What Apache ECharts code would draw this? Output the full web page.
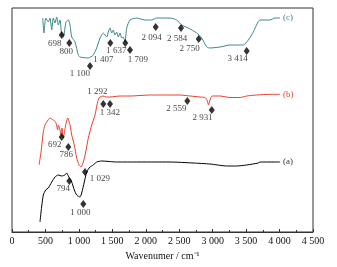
<!DOCTYPE html>
<html>
<head>
<meta charset="utf-8">
<script src="https://cdn.jsdelivr.net/npm/echarts@6/dist/echarts.min.js"></script>
<style>
  html, body { margin: 0; padding: 0; background: #fff; }
  #chart { width: 337px; height: 267px; }
</style>
</head>
<body>
<div id="chart"></div>
<script>
// x tick labels
var xTicks = [0, 500, 1000, 1500, 2000, 2500, 3000, 3500, 4000, 4500];

// spectrum (a) - [wavenumber, relative intensity]
var specA = [
  [419, 10], [434, 20], [468, 37], [504, 42], [543, 44], [594, 50], [643, 55],
  [692, 57], [743, 56], [792, 57], [818, 59], [842, 56], [893, 50], [931, 42],
  [967, 37], [1017, 35], [1042, 39], [1081, 50], [1117, 60], [1166, 65],
  [1215, 67], [1266, 70], [1341, 71], [1565, 70], [1813, 70], [2362, 70],
  [2706, 69], [2960, 68], [3210, 66], [3359, 66], [3509, 67], [3682, 69],
  [3708, 70], [3981, 70], [4007, 70]
];
// spectrum (b)
var specB = [
  [404, 67], [434, 80], [468, 100], [493, 107], [519, 110], [568, 114],
  [617, 112], [653, 110], [683, 102], [692, 107], [718, 102], [733, 97],
  [748, 104], [767, 94], [803, 107], [833, 114], [867, 107], [893, 97],
  [931, 87], [967, 74], [1002, 67], [1032, 65], [1066, 70], [1102, 80],
  [1141, 94], [1192, 107], [1241, 117], [1271, 127], [1293, 133], [1316, 135],
  [1360, 136], [1405, 135], [1465, 135], [1615, 136], [1764, 136], [2063, 137],
  [2313, 137], [2512, 137], [2661, 136], [2811, 135], [2885, 134.5],
  [2915, 132], [2938, 127], [2960, 132], [2990, 136], [3110, 136],
  [3259, 134.5], [3409, 134.5], [3509, 136], [3658, 137], [3857, 137.7],
  [4007, 137.7]
];
// spectrum (c)
var specC = [
  [459, 214], [478, 199], [504, 214], [543, 210], [568, 214], [594, 202],
  [617, 214], [643, 209], [668, 215], [692, 207], [718, 212], [743, 197],
  [767, 195], [807, 210], [842, 212], [867, 207], [893, 195], [942, 190],
  [991, 177], [1017, 175], [1141, 174], [1215, 177], [1266, 184], [1316, 194],
  [1365, 199], [1416, 195], [1440, 200], [1465, 204], [1491, 199], [1514, 202],
  [1540, 197], [1565, 200], [1589, 195], [1615, 199], [1640, 194], [1664, 195],
  [1689, 190], [1715, 204], [1764, 212], [1864, 214], [1988, 212], [2088, 212],
  [2163, 214], [2362, 214], [2462, 212], [2537, 207], [2636, 204], [2761, 199],
  [2836, 194], [2911, 185], [2960, 184], [3110, 185], [3259, 187], [3458, 187],
  [3533, 192], [3607, 200], [3708, 212], [3857, 212], [3932, 214], [4007, 214]
];

// peak markers [wavenumber, intensity, label]
var peaksA = [[857, 51, '794'], [1091, 60, '1 029'], [1066, 28, '1 000']];
var peaksB = [
  [743, 95, '692'], [842, 85, '786'], [1365, 128, '1 292'], [1465, 128, '1 342'],
  [2621, 131, '2 559'], [2986, 122, '2 931']
];
var peaksC = [
  [743, 197, '698'], [857, 189, '800'], [1166, 166, '1 100'], [1470, 189, '1 407'],
  [1694, 189, '1 637'], [1764, 182, '1 709'], [2148, 205, '2 094'],
  [2527, 204, '2 584'], [2791, 193, '2 750'], [3509, 181, '3 414']
];

// label offsets (px) for each marker, same order as above
var offA = [[-6, 8], [15, 7], [-3, 9]];
var offB = [[-7, 8], [-2, 8], [-6, -12], [0, 9], [-11, 8], [-9, 8]];
var offC = [[-7, 9], [-3, 9], [-10, 8], [-7, 17], [-9, 8], [8, 10], [-4, 11],
            [-4, 11], [-9, 10], [-9, 8]];

var font = 'Liberation Serif';
var colA = '#000000', colB = '#e8402e', colC = '#3d8789';

function fmtNum(v) {
  var s = String(v);
  if (v >= 1000) s = s.slice(0, s.length - 3) + ' ' + s.slice(-3);
  return s;
}

function lineSeries(data, color, tag) {
  return {
    type: 'line',
    data: data,
    showSymbol: false,
    smooth: 0.2,
    lineStyle: { color: color, width: 1 },
    itemStyle: { color: color },
    endLabel: {
      show: true,
      formatter: tag,
      distance: 3,
      color: color === '#000000' ? '#333' : color,
      fontFamily: font,
      fontSize: 9
    },
    z: 2
  };
}

function peakSeries(peaks, offs) {
  return {
    type: 'scatter',
    symbol: 'diamond',
    symbolSize: [6, 8],
    itemStyle: { color: '#000' },
    z: 3,
    data: peaks.map(function (p, i) {
      return {
        value: [p[0], p[1]],
        label: {
          show: true,
          position: 'inside',
          offset: offs[i],
          formatter: p[2],
          color: '#111',
          fontFamily: font,
          fontSize: 9
        }
      };
    })
  };
}

var chart = echarts.init(document.getElementById('chart'));
chart.setOption({
  animation: false,
  grid: {
    left: 12, right: 24, top: 8, bottom: 35,
    show: true, borderColor: '#333', borderWidth: 1
  },
  xAxis: {
    type: 'value',
    min: xTicks[0], max: xTicks[xTicks.length - 1], interval: 500,
    name: 'Wavenumer / cm\u207B\u00B9',
    nameLocation: 'middle',
    nameGap: 14,
    nameTextStyle: { fontFamily: font, fontSize: 10, color: '#111' },
    axisLine: { show: true, lineStyle: { color: '#333', width: 1 } },
    axisTick: { show: true, inside: true, length: 3, lineStyle: { color: '#333' } },
    minorTick: { show: true, splitNumber: 2, length: 2, lineStyle: { color: '#333' } },
    splitLine: { show: false },
    axisLabel: {
      fontFamily: font, fontSize: 10, color: '#111', margin: 4,
      formatter: fmtNum
    }
  },
  yAxis: {
    type: 'value', min: 0, max: 224,
    axisLine: { show: false }, axisTick: { show: false },
    axisLabel: { show: false }, splitLine: { show: false }
  },
  series: [
    lineSeries(specA, colA, '(a)'),
    lineSeries(specB, colB, '(b)'),
    lineSeries(specC, colC, '(c)'),
    peakSeries(peaksA, offA),
    peakSeries(peaksB, offB),
    peakSeries(peaksC, offC)
  ]
});
</script>
</body>
</html>
